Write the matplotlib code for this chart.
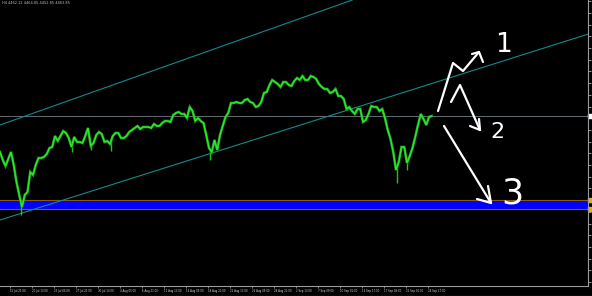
import matplotlib
matplotlib.use('agg')
import numpy as np
import matplotlib.pyplot as plt
from matplotlib.transforms import Affine2D

# H4 closes, one value every 2 bars
closes = [4428, 4420, 4414, 4421, 4428, 4415, 4398, 4385, 4373, 4385,
          4388, 4408, 4405, 4415, 4422, 4422, 4423, 4426, 4432, 4433,
          4444, 4439, 4444, 4449, 4447, 4442, 4433, 4443, 4438, 4438,
          4437, 4444, 4452, 4434, 4437, 4445, 4448, 4446, 4438, 4439,
          4436, 4444, 4447, 4447, 4442, 4442, 4444, 4448, 4450, 4452,
          4454, 4451, 4453, 4453, 4453, 4452, 4456, 4454, 4454, 4457,
          4459, 4459, 4458, 4465, 4467, 4468, 4466, 4466, 4462, 4473,
          4469, 4459, 4462, 4459, 4457, 4445, 4432, 4428, 4440, 4430,
          4445, 4454, 4463, 4467, 4477, 4477, 4478, 4477, 4477, 4480,
          4481, 4478, 4477, 4473, 4474, 4478, 4487, 4488, 4495, 4500,
          4498, 4496, 4493, 4498, 4498, 4495, 4494, 4499, 4502, 4500,
          4504, 4500, 4500, 4504, 4503, 4501, 4496, 4493, 4491, 4491,
          4487, 4488, 4491, 4484, 4484, 4481, 4471, 4473, 4469, 4466,
          4471, 4471, 4458, 4460, 4466, 4474, 4473, 4473, 4469, 4471,
          4462, 4450, 4441, 4428, 4410, 4418, 4433, 4433, 4417, 4424,
          4432, 4443, 4455, 4466, 4461, 4455, 4463, 4464]
bars = np.arange(len(closes)) * 2

# long lower wicks
spike_bars = [15, 52, 66, 81, 153, 289, 296]
spike_lows = [4365, 4428, 4430, 4429, 4420, 4397, 4410]

bid = 4464
support_top, support_bottom = 4380, 4371
# trend lines: two anchor points (bar, price)
lower_line = [(0, 4360), (300, 4490.4)]
upper_line = [(0, 4455), (200, 4552.6)]

date_labels = ["15 Jul 21:00", "20 Jul 13:00", "23 Jul 05:00", "27 Jul 21:00",
               "30 Jul 13:00", "4 Aug 05:00", "6 Aug 21:00", "11 Aug 13:00",
               "14 Aug 05:00", "18 Aug 21:00", "21 Aug 13:00", "26 Aug 05:00",
               "28 Aug 21:00", "2 Sep 13:00", "7 Sep 09:00", "10 Sep 01:00",
               "14 Sep 17:00", "17 Sep 09:00", "22 Sep 01:00", "24 Sep 17:00"]
label_bars = 7 + 16 * np.arange(len(date_labels))

fig = plt.figure(figsize=(5.92, 2.96), dpi=100, facecolor='black')
ax = fig.add_axes([0, 10 / 296, 588 / 592, 286 / 296], facecolor='black')

ax.axhspan(support_bottom, support_top, color='#0000ff', lw=0)
ax.axhline(support_top, color='#8a5a10', lw=0.8)
ax.axhline(support_bottom, color='#8a5a10', lw=0.8)
ax.axhline(bid, color='#5e6c72', lw=0.7)
ax.axline(*lower_line, color='#138a8a', lw=0.8)
ax.axline(*upper_line, color='#138a8a', lw=0.8)

tops = np.interp(spike_bars, bars, closes)
ax.vlines(spike_bars, spike_lows, tops, color='#1fc41f', lw=1.0)
ax.plot(bars, closes, color='#1a9a1a', lw=1.9, solid_joinstyle='miter')
ax.plot(bars, closes, color='#2ee82e', lw=1.0, solid_joinstyle='miter')

ax.set_xlim(0, 588 / 1.375)
ax.set_ylim(4294, 4580)

for s in ['left', 'top']:
    ax.spines[s].set_visible(False)
for s in ['right', 'bottom']:
    ax.spines[s].set_color('#9a9a9a')
    ax.spines[s].set_linewidth(0.8)

ax.yaxis.tick_right()
ax.set_yticks(np.arange(4298, 4580, 11.7))
ax.tick_params(axis='y', colors='#aaaaaa', length=2.5, width=0.6, labelright=False)
ax.set_xticks(label_bars)
ax.set_xticklabels(date_labels)
ax.tick_params(axis='x', colors='#aaaaaa', length=1.5, width=0.5, pad=1,
               labelsize=1.9, labelcolor='#d8d8d8')
for lab in ax.get_xticklabels():
    lab.set_horizontalalignment('left')

# price markers on the right scale
ax.plot([1.004], [bid], marker='s', ms=2.2, color='white', transform=ax.get_yaxis_transform(), clip_on=False)
for p in (support_top, support_bottom):
    ax.plot([1.004], [p], marker='s', ms=2.2, color='#e0b000', transform=ax.get_yaxis_transform(), clip_on=False)

fig.text(0.003, 0.997, "H4 4462.12 4464.85 4452.85 4463.85", color='#c0c0c0',
         fontsize=2.5, va='top', ha='left')

# hand drawn scenarios (image pixel coordinates)
pix = Affine2D().scale(1 / 100, -1 / 100).translate(0, 2.96) + fig.dpi_scale_trans
strokes = [
    [(438, 111), (453, 63), (463, 71), (479, 52)],
    [(472, 54), (479, 52), (483, 62)],
    [(451, 102), (460, 85), (480, 130)],
    [(470, 126), (480, 130), (479, 119)],
    [(444, 126), (491, 203)],
    [(477, 199), (491, 203), (488, 186)],
]
for st in strokes:
    xs, ys = zip(*st)
    fig.add_artist(plt.Line2D(xs, ys, color='white', lw=1.6, transform=pix,
                              solid_capstyle='round', solid_joinstyle='round'))
for txt, x, y, fs in [("1", 504, 45, 19), ("2", 497, 132, 16), ("3", 512, 194, 25)]:
    fig.text(x, y, txt, transform=pix, color='white', fontsize=fs,
             ha='center', va='center')

fig.add_artist(plt.Line2D([27, 592], [295.5, 295.5], color='#c8c8c8', lw=0.8, transform=pix))

fig.savefig('out.png', dpi=100, facecolor='black')
